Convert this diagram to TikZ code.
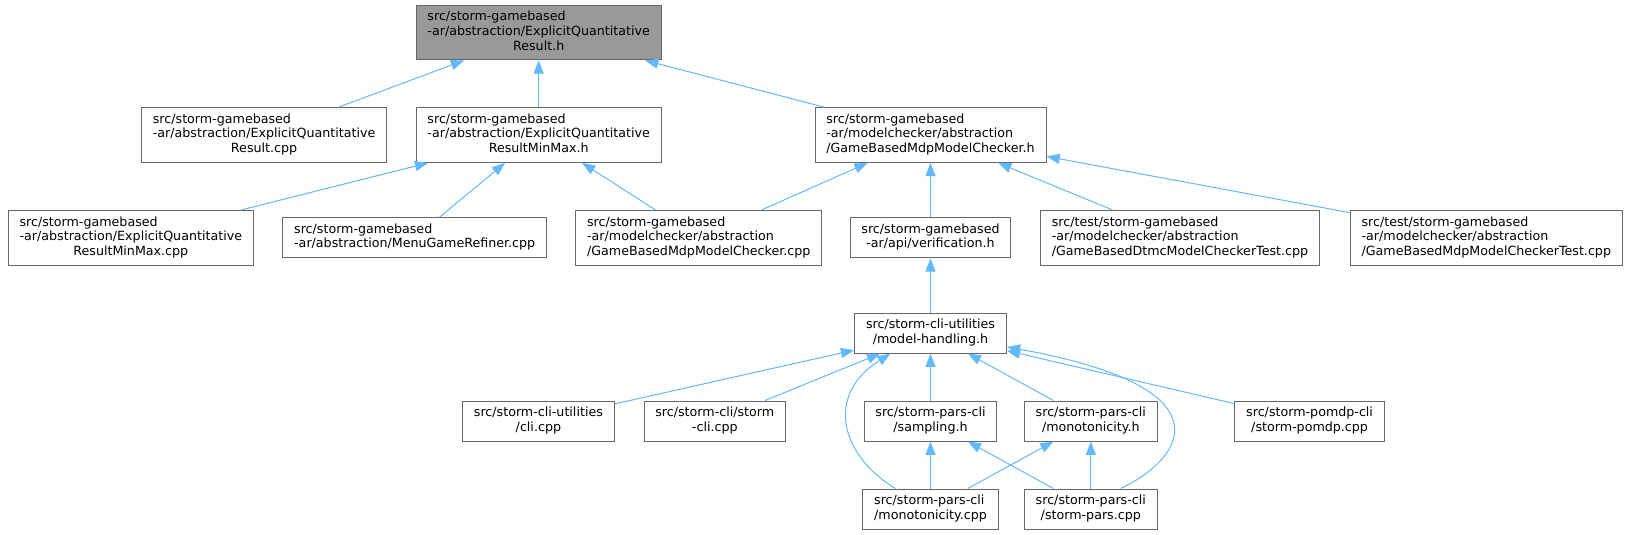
\documentclass[tikz,border=0pt]{standalone}
\usepackage{fontspec}
\setmainfont{DejaVu Sans}
\usetikzlibrary{arrows.meta,calc}

\definecolor{edgeblue}{HTML}{63B8FF}
\definecolor{boxline}{HTML}{666666}
\definecolor{rootfill}{HTML}{999999}

% first lines left, last line centred (as doxygen does)
\newcommand{\flabel}[2]{\begin{tabular}{@{}l@{}}#1\\\multicolumn{1}{@{}c@{}}{#2}\end{tabular}}

\begin{document}
\begin{tikzpicture}[
  x=0.75pt, y=0.75pt,
  font=\fontsize{9.5}{11}\selectfont,
  >={Triangle[length=10pt, width=7.5pt]},
  file/.style={draw=boxline, line width=0.75pt, fill=white,
               inner xsep=8.5pt, inner ysep=4pt},
  focus/.style={file, fill=rootfill},
  dep/.style={->, draw=edgeblue, line width=0.75pt}
]
\useasboundingbox (0,0) rectangle (1631,-535);

% ---------- header being documented ----------
\node[focus] (eqr)      at (538.7,-32.5)  {\flabel{src/storm-gamebased\\-ar/abstraction/ExplicitQuantitative}{Result.h}};

% ---------- direct includers ----------
\node[file]  (eqrcpp)   at (264.1,-135)   {\flabel{src/storm-gamebased\\-ar/abstraction/ExplicitQuantitative}{Result.cpp}};
\node[file]  (eqrmm)    at (538.7,-135)   {\flabel{src/storm-gamebased\\-ar/abstraction/ExplicitQuantitative}{ResultMinMax.h}};
\node[file]  (gbmc)     at (930.5,-135)   {\flabel{src/storm-gamebased\\-ar/modelchecker/abstraction}{/GameBasedMdpModelChecker.h}};

% ---------- third row ----------
\node[file]  (eqrmmcpp) at (130.8,-237.8) {\flabel{src/storm-gamebased\\-ar/abstraction/ExplicitQuantitative}{ResultMinMax.cpp}};
\node[file]  (refiner)  at (414.7,-237.7) {\flabel{src/storm-gamebased}{-ar/abstraction/MenuGameRefiner.cpp}};
\node[file]  (gbmccpp)  at (698.8,-237.8) {\flabel{src/storm-gamebased\\-ar/modelchecker/abstraction}{/GameBasedMdpModelChecker.cpp}};
\node[file]  (verif)    at (930.5,-237.7) {\flabel{src/storm-gamebased}{-ar/api/verification.h}};
\node[file]  (dtmctest) at (1180,-237.8)  {\flabel{src/test/storm-gamebased\\-ar/modelchecker/abstraction}{/GameBasedDtmcModelCheckerTest.cpp}};
\node[file]  (mdptest)  at (1486.3,-237.8){\flabel{src/test/storm-gamebased\\-ar/modelchecker/abstraction}{/GameBasedMdpModelCheckerTest.cpp}};

% ---------- cli utilities ----------
\node[file]  (mh)       at (930.5,-333)   {\flabel{src/storm-cli-utilities}{/model-handling.h}};
\node[file]  (clicpp)   at (538.4,-421)   {\flabel{src/storm-cli-utilities}{/cli.cpp}};
\node[file]  (stormcli) at (714.8,-421)   {\flabel{src/storm-cli/storm}{-cli.cpp}};
\node[file]  (sampling) at (930.5,-421)   {\flabel{src/storm-pars-cli}{/sampling.h}};
\node[file]  (monoh)    at (1090.8,-421)  {\flabel{src/storm-pars-cli}{/monotonicity.h}};
\node[file]  (pomdp)    at (1309.6,-421)  {\flabel{src/storm-pomdp-cli}{/storm-pomdp.cpp}};
\node[file]  (monocpp)  at (930.5,-509)   {\flabel{src/storm-pars-cli}{/monotonicity.cpp}};
\node[file]  (stormpars)at (1090.8,-509)  {\flabel{src/storm-pars-cli}{/storm-pars.cpp}};

% ---------- include edges ----------
\draw[dep] (eqrcpp)   -- (eqr);
\draw[dep] (eqrmm)    -- (eqr);
\draw[dep] (gbmc)     -- (eqr);
\draw[dep] (eqrmmcpp) -- (eqrmm);
\draw[dep] (refiner)  -- (eqrmm);
\draw[dep] (gbmccpp)  -- (eqrmm);
\draw[dep] (gbmccpp)  -- (gbmc);
\draw[dep] (verif)    -- (gbmc);
\draw[dep] (dtmctest) -- (gbmc);
\draw[dep] (mdptest)  -- (gbmc);
\draw[dep] (mh)       -- (verif);

\draw[dep] (clicpp)   -- (mh);
\draw[dep] (stormcli) -- (mh);
\draw[dep] (sampling) -- (mh);
\draw[dep] (monoh)    -- (mh);
\draw[dep] (pomdp)    -- (mh);
\draw[dep] ($(monocpp.north)+(-35,0)$) .. controls (840,-455) and (825,-395)
           .. ($(mh.south)+(-40,0)$);                  % bends round on the left
\draw[dep] ($(stormpars.north)+(30,0)$) .. controls (1190,-455) and (1225,-386)
           .. ($(mh.east)+(0,-14)$);                   % bends round on the right

\draw[dep] (monocpp)   -- (sampling);
\draw[dep] (stormpars) -- (sampling);
\draw[dep] (monocpp)   -- (monoh);
\draw[dep] (stormpars) -- (monoh);

\end{tikzpicture}
\end{document}
